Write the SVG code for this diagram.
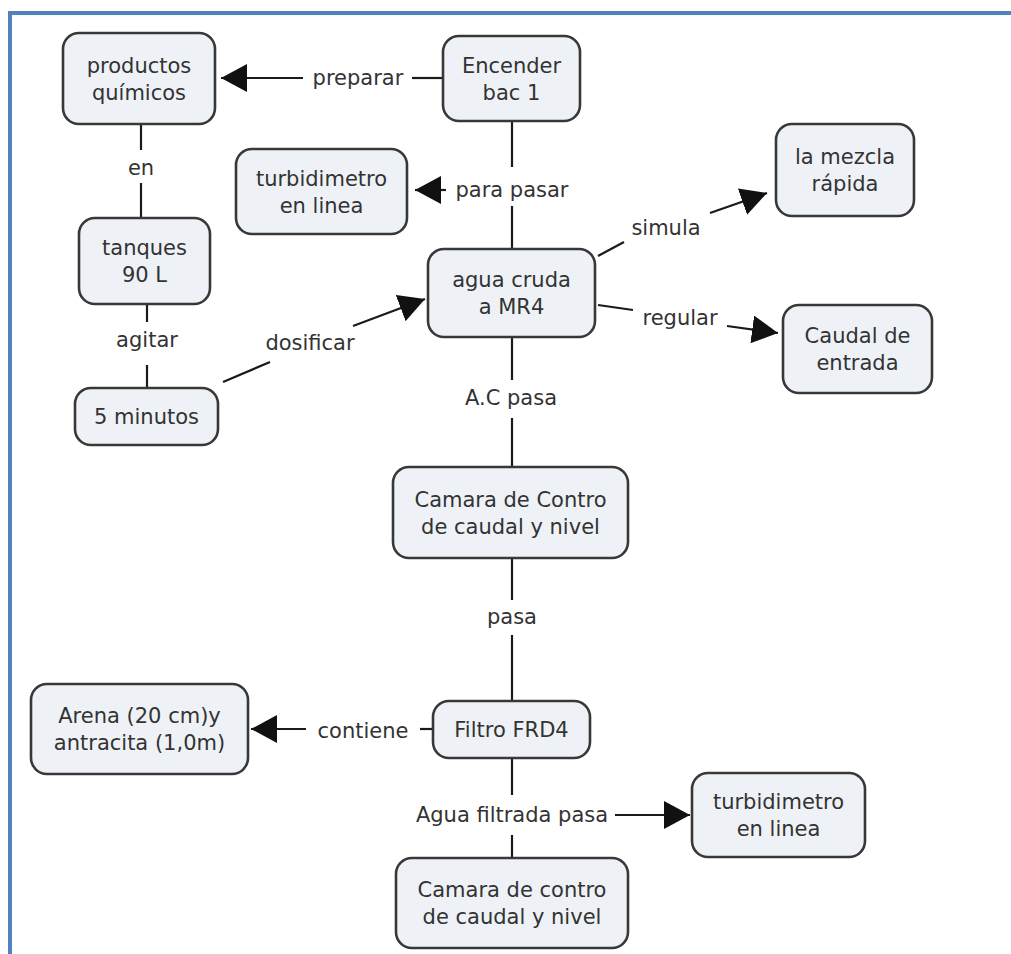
<svg xmlns="http://www.w3.org/2000/svg" width="1011" height="954" viewBox="0 0 1011 954">
<style>
.n rect{fill:#eef2f6;stroke:#383838;stroke-width:2.6}
text{font-family:"DejaVu Sans",Verdana,sans-serif;font-size:21px;fill:#333;text-anchor:middle}
.c line{stroke:#1a1a1a;stroke-width:2.2}
</style>
<defs>
<marker id="ah" markerUnits="userSpaceOnUse" markerWidth="26" markerHeight="28" refX="26" refY="14" orient="auto">
<path d="M0,0 L26,14 L0,28 z" fill="#111"/>
</marker>
</defs>
<rect width="1011" height="954" fill="#fff"/>
<g id="border" fill="#4f81bd">
<rect x="8" y="11" width="1003" height="4"/>
<rect x="8" y="11" width="4" height="943"/>
</g>
<g id="connectors" class="c">
<line x1="442" y1="78" x2="412" y2="78"/>
<line x1="303" y1="78" x2="221" y2="78" marker-end="url(#ah)"/>
<line x1="512" y1="121" x2="512" y2="167"/>
<line x1="446" y1="190" x2="415" y2="190" marker-end="url(#ah)"/>
<line x1="512" y1="206" x2="512" y2="249"/>
<line x1="598" y1="256" x2="624" y2="242"/>
<line x1="710" y1="213" x2="767" y2="193" marker-end="url(#ah)"/>
<line x1="598" y1="305" x2="633" y2="310"/>
<line x1="727" y1="326" x2="778" y2="333" marker-end="url(#ah)"/>
<line x1="141" y1="124" x2="141" y2="150"/>
<line x1="141" y1="183" x2="141" y2="218"/>
<line x1="147" y1="304" x2="147" y2="322"/>
<line x1="147" y1="365" x2="147" y2="388"/>
<line x1="223" y1="382" x2="270" y2="362"/>
<line x1="353" y1="326" x2="425" y2="299" marker-end="url(#ah)"/>
<line x1="512" y1="337" x2="512" y2="380"/>
<line x1="512" y1="418" x2="512" y2="467"/>
<line x1="512" y1="558" x2="512" y2="600"/>
<line x1="512" y1="635" x2="512" y2="701"/>
<line x1="433" y1="729" x2="420" y2="729"/>
<line x1="306" y1="729" x2="251" y2="729" marker-end="url(#ah)"/>
<line x1="512" y1="758" x2="512" y2="795"/>
<line x1="512" y1="835" x2="512" y2="858"/>
<line x1="615" y1="815" x2="690" y2="815" marker-end="url(#ah)"/>
</g>
<g id="labels">
<text x="358" y="85">preparar</text>
<text x="512" y="197">para pasar</text>
<text x="666" y="235">simula</text>
<text x="680" y="325">regular</text>
<text x="141" y="175">en</text>
<text x="147" y="347">agitar</text>
<text x="310" y="350">dosificar</text>
<text x="511" y="405">A.C pasa</text>
<text x="512" y="624">pasa</text>
<text x="363" y="738">contiene</text>
<text x="512" y="822">Agua filtrada pasa</text>
</g>
<g id="n1" class="n"><rect x="63" y="33" width="152" height="91" rx="16"/><text x="139" y="72.5">productos</text><text x="139" y="99.5">químicos</text></g>
<g id="n2" class="n"><rect x="443" y="36" width="137" height="85" rx="16"/><text x="511.5" y="72.5">Encender</text><text x="511.5" y="99.5">bac 1</text></g>
<g id="n3" class="n"><rect x="236" y="149" width="171" height="85" rx="16"/><text x="321.5" y="185.5">turbidimetro</text><text x="321.5" y="212.5">en linea</text></g>
<g id="n4" class="n"><rect x="776" y="124" width="138" height="92" rx="16"/><text x="845" y="164">la mezcla</text><text x="845" y="191">rápida</text></g>
<g id="n5" class="n"><rect x="428" y="249" width="167" height="88" rx="16"/><text x="511.5" y="287">agua cruda</text><text x="511.5" y="314">a MR4</text></g>
<g id="n6" class="n"><rect x="79" y="218" width="131" height="86" rx="16"/><text x="144.5" y="255">tanques</text><text x="144.5" y="282">90 L</text></g>
<g id="n7" class="n"><rect x="783" y="305" width="149" height="88" rx="16"/><text x="857.5" y="343">Caudal de</text><text x="857.5" y="370">entrada</text></g>
<g id="n8" class="n"><rect x="75" y="388" width="143" height="57" rx="16"/><text x="146.5" y="423.5">5 minutos</text></g>
<g id="n9" class="n"><rect x="393" y="467" width="235" height="91" rx="16"/><text x="510.5" y="506.5">Camara de Contro</text><text x="510.5" y="533.5">de caudal y nivel</text></g>
<g id="n10" class="n"><rect x="31" y="684" width="217" height="90" rx="16"/><text x="139.5" y="723">Arena (20 cm)y</text><text x="139.5" y="750">antracita (1,0m)</text></g>
<g id="n11" class="n"><rect x="433" y="701" width="157" height="57" rx="16"/><text x="511.5" y="736.5">Filtro FRD4</text></g>
<g id="n12" class="n"><rect x="692" y="773" width="173" height="84" rx="16"/><text x="778.5" y="809">turbidimetro</text><text x="778.5" y="836">en linea</text></g>
<g id="n13" class="n"><rect x="396" y="858" width="232" height="90" rx="16"/><text x="512" y="897">Camara de contro</text><text x="512" y="924">de caudal y nivel</text></g>
</svg>
